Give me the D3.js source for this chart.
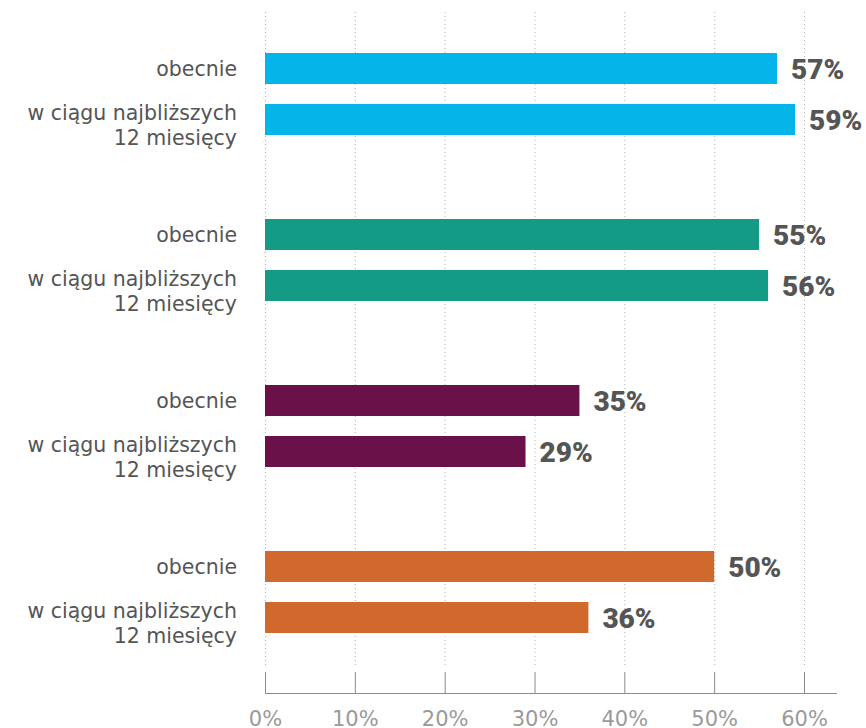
<!DOCTYPE html>
<html>
<head>
<meta charset="utf-8">
<script src="https://cdn.jsdelivr.net/npm/d3@7"></script>
<style>
  html, body { margin: 0; padding: 0; background: #fff; }
  svg { display: block; }
</style>
</head>
<body>
<svg id="chart" width="866" height="728"></svg>
<script>
// Four groups, each with a "now" bar and a "next 12 months" bar
const groups = ["g1", "g2", "g3", "g4"];
const periods = ["obecnie", "w ciągu najbliższych\n12 miesięcy"];
const valuesNow = [57, 55, 35, 50];
const valuesNext = [59, 56, 29, 36];
const groupColors = ["#05b5ea", "#149b85", "#6b1149", "#d0692b"];
const tickValues = [0, 10, 20, 30, 40, 50, 60];
const tickLabels = ["0%", "10%", "20%", "30%", "40%", "50%", "60%"];

const svg = d3.select("#chart");
const textFont = "'DejaVu Sans', sans-serif";
const valueFont = "Roboto, 'Liberation Sans', sans-serif";

const x = d3.scaleLinear().domain([0, 60]).range([265, 804]);
const yGroup = d3.scaleBand().domain(groups).range([11, 675]).paddingInner(0).paddingOuter(0);
const yInner = d3.scaleBand().domain(periods).range([0, yGroup.bandwidth()])
  .paddingInner(20 / 51).paddingOuter(0.8235);

const rows = [];
groups.forEach((g, i) => {
  rows.push({ group: g, period: periods[0], value: valuesNow[i], color: groupColors[i] });
  rows.push({ group: g, period: periods[1], value: valuesNext[i], color: groupColors[i] });
});
const rowY = d => yGroup(d.group) + yInner(d.period);

// dotted vertical gridlines
svg.append("g").selectAll("line").data(tickValues).join("line")
  .attr("x1", d => x(d) + 0.5).attr("x2", d => x(d) + 0.5)
  .attr("y1", 12).attr("y2", 665)
  .attr("stroke", "#b0b0b0").attr("stroke-width", 1)
  .attr("stroke-dasharray", "1,3");

// bottom axis with ticks pointing up
const axisY = 693;
const axis = d3.axisBottom(x).tickValues(tickValues)
  .tickFormat((d, i) => tickLabels[i]).tickSizeInner(-21).tickSizeOuter(0).tickPadding(0);
const ax = svg.append("g").attr("transform", `translate(0,${axisY})`).call(axis);
ax.select(".domain").attr("d", `M${x(0)},0.5H837`).attr("stroke", "#8a8a8a");
ax.selectAll(".tick line").attr("stroke", "#8a8a8a");
ax.selectAll(".tick text")
  .attr("y", 33).attr("dy", 0)
  .attr("fill", "#9a9a9a").style("font-size", "21px").style("font-family", textFont);

// bars
svg.append("g").selectAll("rect").data(rows).join("rect")
  .attr("x", x(0))
  .attr("y", d => rowY(d))
  .attr("width", d => x(d.value) - x(0))
  .attr("height", yInner.bandwidth())
  .attr("fill", d => d.color);

// value labels
svg.append("g").selectAll("text").data(rows).join("text")
  .attr("x", d => x(d.value) + 14)
  .attr("y", d => rowY(d) + yInner.bandwidth() / 2)
  .attr("dy", "0.36em")
  .attr("fill", "#555")
  .style("font-size", "28px").style("font-weight", "900").style("font-family", valueFont)
  .text(d => d.value + "%");

// category labels
const cat = svg.append("g").selectAll("text").data(rows).join("text")
  .attr("text-anchor", "end")
  .attr("fill", "#555")
  .style("font-size", "20.5px").style("font-family", textFont)
  .attr("transform", d => {
    const lines = d.period.split("\n");
    const c = rowY(d) + yInner.bandwidth() / 2 + (lines.length > 1 ? 6 : 0);
    return `translate(237,${c})`;
  });
cat.each(function(d) {
  const lines = d.period.split("\n");
  const t = d3.select(this);
  lines.forEach((ln, i) => {
    t.append("tspan").attr("x", 0)
      .attr("y", (i - (lines.length - 1) / 2) * 25)
      .attr("dy", "0.35em").text(ln);
  });
});
</script>
</body>
</html>
